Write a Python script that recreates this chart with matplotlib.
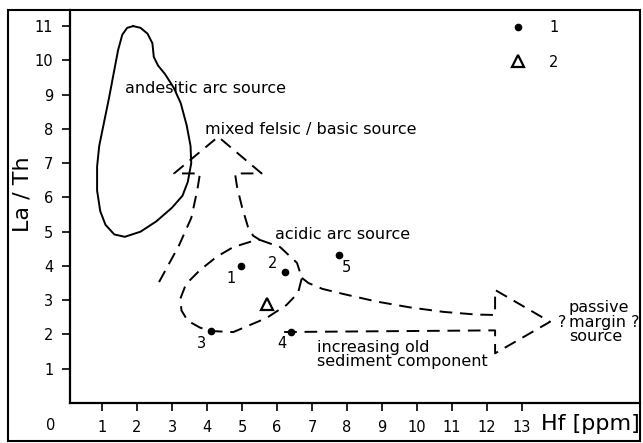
import numpy as np
import matplotlib.pyplot as plt
from matplotlib.patches import Rectangle

# Data
# samples (series 1, dots) with their numbers
hf_pts = [4.96, 6.23, 4.11, 6.39, 7.78]
lath_pts = [4.0, 3.82, 2.1, 2.07, 4.32]
pt_labels = ['1', '2', '3', '4', '5']
# series 2 (open triangle)
hf_tri = [5.7]
lath_tri = [2.9]

# andesitic arc source field (closed outline)
andes_hf = [1.89, 2.1, 2.3, 2.44, 2.48, 2.6, 2.8, 3.05, 3.25, 3.42, 3.53, 3.55, 3.45, 3.3, 3.0,
            2.55, 2.1, 1.65, 1.35, 1.1, 0.95, 0.86, 0.86, 0.92, 1.05, 1.2, 1.33, 1.46, 1.58, 1.72, 1.89]
andes_lath = [11.0, 10.95, 10.78, 10.5, 10.1, 9.85, 9.6, 9.2, 8.75, 8.1, 7.5, 7.0, 6.45, 6.05, 5.7,
              5.3, 5.0, 4.85, 4.92, 5.2, 5.6, 6.2, 6.9, 7.5, 8.15, 8.9, 9.6, 10.3, 10.75, 10.95, 11.0]

# acidic arc source field (dashed closed outline)
acid_hf = [5.51, 6.09, 6.57, 6.71, 6.6, 6.27, 5.7, 4.75, 4.11, 3.8, 3.45, 3.27, 3.24, 3.4, 3.8,
           4.28, 4.75, 5.32, 5.51]
acid_lath = [4.76, 4.55, 4.09, 3.65, 3.21, 2.86, 2.48, 2.07, 2.1, 2.2, 2.4, 2.7, 3.05, 3.47, 3.88,
             4.27, 4.55, 4.73, 4.76]

# arrow towards mixed felsic / basic source
mixed_hf = [2.63, 3.2, 3.55, 3.72, 3.8, 3.06, 4.32, 5.56, 4.8, 4.86, 5.0, 5.17, 5.32, 5.51]
mixed_lath = [3.53, 4.6, 5.4, 6.2, 6.7, 6.7, 7.77, 6.7, 6.7, 6.3, 5.72, 5.14, 4.88, 4.76]

# arrow towards passive margin source
passive_hf = [6.71, 6.9, 7.3, 7.9, 8.85, 9.8, 10.75, 11.71, 12.23, 12.23, 13.8, 12.23, 12.23, 6.0]
passive_lath = [3.65, 3.5, 3.33, 3.18, 2.96, 2.79, 2.66, 2.58, 2.57, 3.3, 2.37, 1.45, 2.12, 2.07]

x_ticks = list(range(1, 14))
y_ticks = list(range(1, 12))

W, H = 643, 443
fig = plt.figure(figsize=(W / 100, H / 100), dpi=100)
ax = fig.add_axes([70 / W, 40 / H, 570 / W, 393 / H])

dash = (0, (6.5, 4))
ax.plot(andes_hf, andes_lath, color='black', lw=1.4, solid_joinstyle='round')
ax.plot(acid_hf, acid_lath, color='black', lw=1.4, linestyle=dash)
ax.plot(mixed_hf, mixed_lath, color='black', lw=1.4, linestyle=dash)
ax.plot(passive_hf, passive_lath, color='black', lw=1.4, linestyle=dash)

ax.plot(hf_pts, lath_pts, 'o', color='black', ms=4.5, label='1')
ax.plot(hf_tri, lath_tri, '^', mfc='white', mec='black', mew=1.6, ms=8, label='2')

offsets = [(-7, -9), (-9, 6), (-7, -9), (-6, -8), (5, -9)]
for x, y, lab, off in zip(hf_pts, lath_pts, pt_labels, offsets):
    ax.annotate(lab, (x, y), xytext=off, textcoords='offset points',
                ha='center', va='center', fontsize=10.5)

fs = 11.5
ax.text(1.66, 9.19, 'andesitic arc source', fontsize=fs, ha='left', va='center')
ax.text(3.94, 7.97, 'mixed felsic / basic source', fontsize=fs, ha='left', va='center')
ax.text(5.94, 4.93, 'acidic arc source', fontsize=fs, ha='left', va='center')
ax.text(7.14, 1.42, 'increasing old\nsediment component', fontsize=fs, ha='left', va='center',
        linespacing=0.95)
ax.text(14.34, 2.36, 'passive\nmargin ?\nsource', fontsize=fs, ha='left', va='center',
        linespacing=0.95)
ax.text(14.13, 2.36, '?', fontsize=fs, ha='center', va='center')

leg = ax.legend(loc='upper left', bbox_to_anchor=(0.774, 0.975), frameon=False, fontsize=10.5,
                numpoints=1, handlelength=1.0, handletextpad=1.6, labelspacing=1.35,
                borderpad=0, borderaxespad=0)

ax.set_xlim(0.086, 16.37)
ax.set_ylim(0, 11.47)
ax.set_xticks(x_ticks)
ax.set_yticks(y_ticks)
ax.tick_params(direction='out', length=6, width=1.2, labelsize=10.5, pad=6)
for side in ['top', 'right']:
    ax.spines[side].set_visible(False)
for side in ['left', 'bottom']:
    ax.spines[side].set_linewidth(1.6)

ax.annotate('0', (0, 0), xytext=(-12, -16.5), textcoords='offset points',
            ha='center', va='center', fontsize=10.5, annotation_clip=False)

fig.text(23 / W, 1 - 194 / H, 'La / Th', rotation=90, ha='center', va='center', fontsize=16)
fig.text(541 / W, 1 - 424 / H, 'Hf [ppm]', ha='left', va='center', fontsize=16)

fig.patches.append(Rectangle((8 / W, 2 / H), 632 / W, 431 / H, transform=fig.transFigure,
                             fill=False, lw=1.5, color='black'))

plt.savefig('out.png', dpi=100)
